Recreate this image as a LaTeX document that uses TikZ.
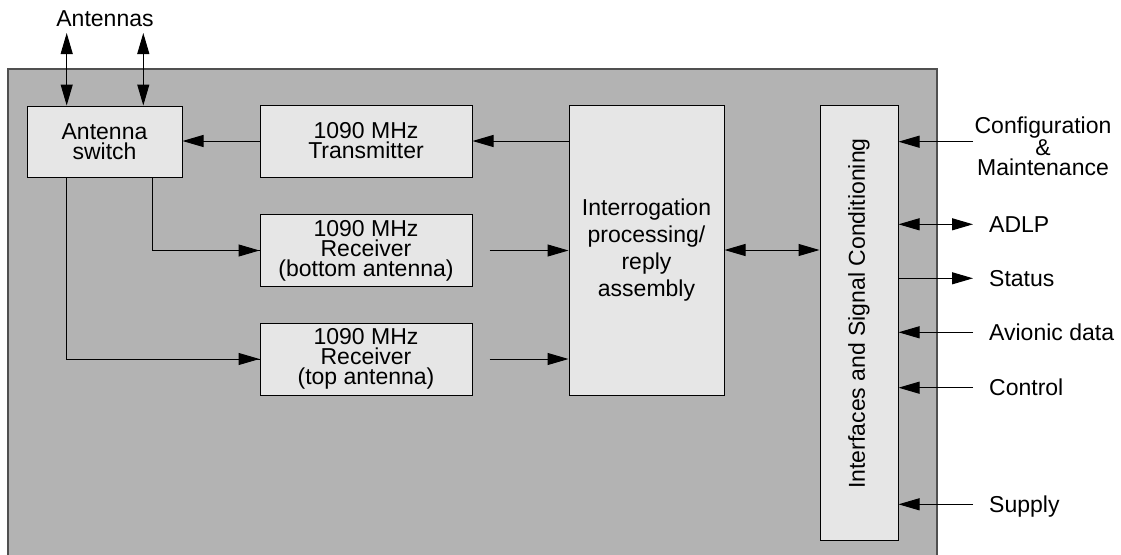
\documentclass[tikz,border=0pt]{standalone}
\usepackage{fontspec}
\setmainfont{Liberation Sans}
\usetikzlibrary{arrows.meta}
\definecolor{panel}{HTML}{B3B3B3}
\definecolor{boxfill}{HTML}{E6E6E6}
\definecolor{panelline}{HTML}{505050}
\begin{document}
\begin{tikzpicture}[x=1pt,y=-1pt,
  font=\fontsize{23}{20}\selectfont,
  blk/.style={draw=black, fill=boxfill, line width=1pt, align=center, inner sep=0pt},
  conn/.style={line width=1pt, -{Triangle[length=21pt,width=12pt]}},
  dconn/.style={line width=1pt, {Triangle[length=21pt,width=12pt]}-{Triangle[length=21pt,width=12pt]}},
  lbl/.style={inner sep=0pt, anchor=base west}]
\useasboundingbox (0,0) rectangle (1121,554);
% outer panel
\fill[panel] (8,69) rectangle (937,560);
\draw[panelline, line width=1.5pt] (8,560) -- (8,69) -- (937,69) -- (937,560);

% blocks
\node[blk, minimum width=155pt, minimum height=71pt] (sw) at (104.5,141.5) {Antenna\\switch};
\node[blk, minimum width=212pt, minimum height=72pt] (tx) at (366,141) {1090 MHz\\Transmitter};
\node[blk, minimum width=212pt, minimum height=72pt] (rxb) at (366,250.5) {1090 MHz\\Receiver\\(bottom antenna)};
\node[blk, minimum width=212pt, minimum height=72pt] (rxt) at (366,359) {1090 MHz\\Receiver\\(top antenna)};
\node[blk, minimum width=155pt, minimum height=290pt, font=\fontsize{23}{27}\selectfont] (ip) at (646.5,250) {Interrogation\\processing/\\reply\\assembly};
\node[blk, minimum width=78pt, minimum height=435pt] (ifc) at (859,322.5) {};
\node[rotate=90, inner sep=0pt] (ifclbl) at (859,313.5) {Interfaces and Signal Conditioning};

% antennas
\coordinate (ant1) at (66.7,33);
\coordinate (ant2) at (143.3,33);
\draw[dconn] (ant1) -- (ant1 |- sw.north);
\draw[dconn] (ant2) -- (ant2 |- sw.north);
\node[anchor=base, inner sep=0pt] (antl) at (105,26.5) {Antennas};

% internal connections
\draw[conn] (ip.west |- tx.east) -- (tx.east);
\draw[conn] (tx.west) -- (sw.east |- tx.west);
\coordinate (tapb) at (152.3,0);
\coordinate (tapt) at (66.7,0);
\draw[line width=1pt] (sw.south -| tapb) |- (rxb.west);
\draw[conn] ([xshift=-22pt]rxb.west) -- (rxb.west);
\draw[line width=1pt] (sw.south -| tapt) |- (rxt.west);
\draw[conn] ([xshift=-22pt]rxt.west) -- (rxt.west);
\draw[conn] ([xshift=17pt]rxb.east) -- (ip.west |- rxb.east);
\draw[conn] ([xshift=17pt]rxt.east) -- (ip.west |- rxt.east);
\draw[dconn] (ip.east) -- (ifc.west |- ip.east);

% external interfaces
\coordinate (cfg) at (973,141.7);
\coordinate (adlp) at (973,224.3);
\coordinate (st) at (973,278.3);
\coordinate (av) at (973,332.3);
\coordinate (ctl) at (973,387.7);
\coordinate (sup) at (973,504.3);
\draw[conn] (cfg) -- (ifc.east |- cfg);
\draw[dconn] (ifc.east |- adlp) -- (adlp);
\draw[conn] (ifc.east |- st) -- (st);
\draw[conn] (av) -- (ifc.east |- av);
\draw[conn] (ctl) -- (ifc.east |- ctl);
\draw[conn] (sup) -- (ifc.east |- sup);

\node[align=center, inner sep=0pt] (cfgl) at (1043,146) {Configuration\\\&\\Maintenance};
\node[lbl] (adlpl) at (989,232.3) {ADLP};
\node[lbl] (stl) at (989,286.3) {Status};
\node[lbl] (avl) at (989,340.3) {Avionic data};
\node[lbl] (ctll) at (989,395.7) {Control};
\node[lbl] (supl) at (989,512.3) {Supply};
\end{tikzpicture}
\end{document}
